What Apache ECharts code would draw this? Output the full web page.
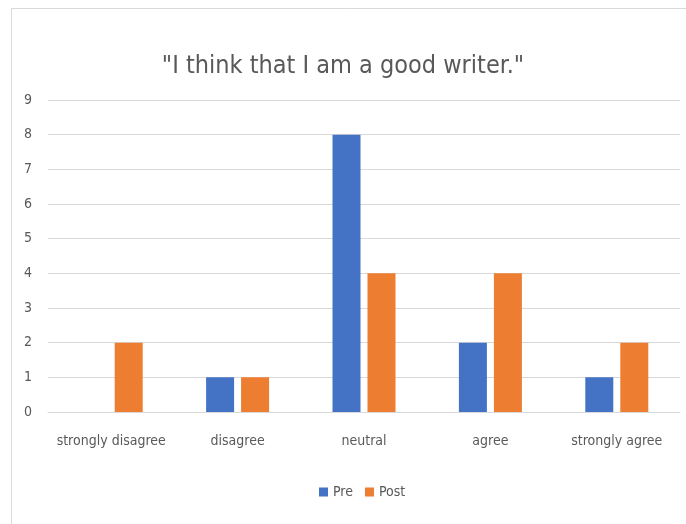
<!DOCTYPE html>
<html><head><meta charset="utf-8">
<script src="https://cdn.jsdelivr.net/npm/echarts@6/dist/echarts.min.js"></script>
<style>html,body{margin:0;padding:0;background:#fff}#c{width:686px;height:524px}</style>
</head><body><div id="c"></div>
<script>
const categories = ["strongly disagree", "disagree", "neutral", "agree", "strongly agree"];
const preValues = [0, 1, 8, 2, 1];
const postValues = [2, 1, 4, 4, 2];
const titleText = '"I think that I am a good writer."';
const font = '"Liberation Sans Narrow", "DejaVu Sans Condensed", "Open Sans", sans-serif';
const chart = echarts.init(document.getElementById('c'));
chart.setOption({
  animation: false,
  backgroundColor: '#fff',
  graphic: [{type: 'rect', shape: {x: 11.5, y: 8.5, width: 700, height: 540}, style: {fill: 'none', stroke: '#d9d9d9', lineWidth: 1}, silent: true}],
  title: {text: titleText, left: 'center', top: 49, textStyle: {fontFamily: font, fontSize: 25, fontWeight: 'normal', color: '#595959'}},
  legend: {bottom: 20, left: 314, itemWidth: 9, itemHeight: 9, itemGap: 12, icon: 'rect',
    textStyle: {fontFamily: font, fontSize: 14, color: '#595959'}},
  grid: {left: 48, right: 6, top: 100, bottom: 112, containLabel: false},
  xAxis: {type: 'category', data: categories,
    axisLine: {lineStyle: {color: '#d9d9d9'}}, axisTick: {show: false},
    axisLabel: {interval: 0, fontFamily: font, fontSize: 14, color: '#595959', margin: 22}},
  yAxis: {type: 'value', min: 0, max: 9, interval: 1,
    axisLine: {show: false}, axisTick: {show: false},
    splitLine: {lineStyle: {color: '#d9d9d9'}},
    axisLabel: {fontFamily: font, fontSize: 14, color: '#595959', margin: 16}},
  series: [
    {name: 'Pre', type: 'bar', data: preValues, barWidth: 28, barGap: '25%', itemStyle: {color: '#4472C4'}},
    {name: 'Post', type: 'bar', data: postValues, barWidth: 28, itemStyle: {color: '#ED7D31'}}
  ]
});
</script></body></html>
